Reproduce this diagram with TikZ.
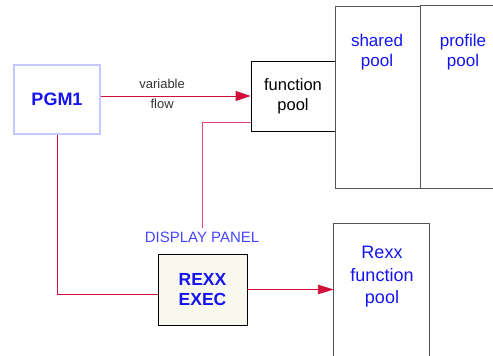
\documentclass[tikz,border=0pt]{standalone}
\usepackage{fontspec}
\setmainfont{Liberation Sans}
\usetikzlibrary{positioning,arrows.meta}
\definecolor{flowred}{HTML}{D0103A}
\definecolor{panelpink}{HTML}{E04870}
\definecolor{poolblue}{HTML}{1414F0}
\definecolor{panelblue}{HTML}{4646FF}
\definecolor{boxgray}{HTML}{555555}
\definecolor{pgmframe}{HTML}{C8C8FF}
\definecolor{execfill}{HTML}{F8F8EE}

\begin{document}
\begin{tikzpicture}
    [x=1pt,y=-1pt,every node/.style={inner sep=0pt, align=center},
     flow/.style={draw=flowred, line width=0.9pt},
     tip/.style={-{Triangle[length=15pt,width=10pt]}, fill=flowred},
     pooltext/.style={text=poolblue, font=\fontsize{17}{20}\selectfont},
     boldtext/.style={text=poolblue, font=\fontsize{18}{20}\selectfont\bfseries}]
  \useasboundingbox (0,0) rectangle (493,356);

  % boxes
  \node[draw=pgmframe, line width=1.2pt, minimum width=86pt, minimum height=69pt, boldtext] (pgm) at (57,99.5) {PGM1};
  \node[draw, line width=0.8pt, minimum width=84pt, minimum height=70pt, font=\fontsize{16.5}{20}\selectfont] (fpool) at (293,96) {function\\pool};
  \node[draw=boxgray, line width=1pt, minimum width=85pt, minimum height=182pt] (spool) at (377.5,97) {};
  \node[minimum width=76pt, minimum height=182pt] (ppool) at (458,97) {};
  \node[draw, fill=execfill, line width=0.9pt, minimum width=89pt, minimum height=71pt, boldtext, font=\fontsize{17.5}{20}\selectfont\bfseries] (rexx) at (202.5,289.5) {REXX\\EXEC};
  \node[minimum width=95pt, minimum height=134pt] (rpool) at (381.5,291) {};

  \draw[boxgray, line width=1pt] (ppool.north west) -- (ppool.north east);
  \draw[boxgray, line width=1pt] (ppool.south west) -- (ppool.south east);
  \draw[boxgray, line width=1pt] (rpool.south west) -- (rpool.north west) -- (rpool.north east) -- (rpool.south east);

  % texts
  \node[pooltext] (stext) at (377,52) {shared\\pool};
  \node[pooltext] (ptext) at (463,52) {profile\\pool};
  \node[pooltext, font=\fontsize{18}{22.5}\selectfont] (rtext) at (382,277) {Rexx\\function\\pool};
  \node[text=panelblue, font=\fontsize{15}{18}\selectfont] (dpanel) at (202,237) {DISPLAY PANEL};

  % connectors
  \draw[flow, tip] (pgm.east |- fpool.west) -- node[pos=0.41, above=7pt, text=black!80, font=\fontsize{13}{15}\selectfont]{variable}
    node[pos=0.41, below=3pt, text=black!80, font=\fontsize{13}{15}\selectfont]{flow} (fpool.west);
  \draw[draw=panelpink, line width=0.8pt] ([yshift=-26pt]fpool.west) -| ([yshift=3pt]dpanel.north);
  \draw[flow] (pgm.south) |- ([yshift=-4.5pt]rexx.west);
  \draw[flow, -{Triangle[length=16pt,width=9.5pt]}] (rexx.east) -- (rexx.east -| rpool.west);
\end{tikzpicture}
\end{document}
